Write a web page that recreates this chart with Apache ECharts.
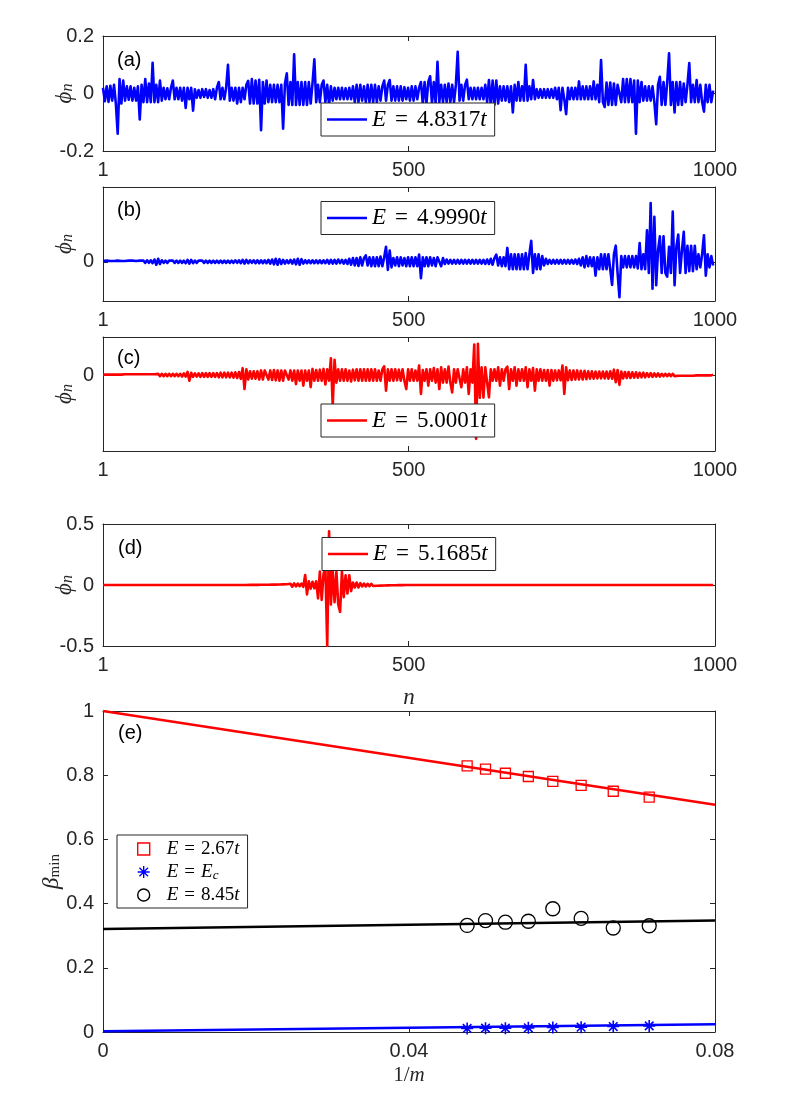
<!DOCTYPE html>
<html>
<head>
<meta charset="utf-8">
<title>phi_n and beta_min</title>
<script src="https://cdn.jsdelivr.net/npm/echarts@6/dist/echarts.min.js"></script>
<style>
html,body{margin:0;padding:0;background:#ffffff;}
#chart{width:789px;height:1100px;}
</style>
</head>
<body>
<div id="chart"></div>
<script>
// ================= DATA =================
// lattice sites are sampled every siteStep sites, starting at siteFirst
const siteFirst = 1;
const siteStep = 3;
const siteTicks = [1, 500, 1000];

const labelA = 'E = 4.8317t';
const phiA = [
 .02,-.027,.025,-.029,.027,-.025,.03,-.035,-.14,.05,
 -.035,.045,-.025,.025,-.022,.025,-.025,.02,-.025,.025,
 -.09,.03,-.03,.05,-.03,.035,-.03,.107,-.03,.03,
 -.03,.045,-.025,.02,-.02,.018,-.02,.02,.045,-.02,
 .02,-.02,.02,-.025,.02,-.05,.02,-.02,.02,-.06,
 .015,-.015,.012,-.015,.015,-.012,.015,-.015,.012,-.015,
 .015,-.02,.02,.04,-.02,.02,-.02,.02,.1,-.025,
 .02,-.025,.02,-.035,.02,-.03,.02,-.02,.03,.044,
 -.035,.05,-.035,.045,-.035,.048,-.128,.04,-.035,.045,
 -.03,.03,-.03,.03,-.03,.03,-.03,.03,-.122,.035,
 .07,-.04,.04,-.04,.136,-.04,.04,-.04,.04,-.04,
 .04,-.04,.04,-.035,.035,.119,-.03,.03,-.03,.03,
 .045,-.03,.03,-.04,.025,-.025,.02,-.02,.02,-.02,
 .02,-.02,.018,-.02,.02,-.02,.025,-.03,.03,-.03,
 .03,-.025,.025,-.03,.03,-.03,.03,-.03,.03,-.03,
 .025,-.025,.025,.045,-.025,.03,.047,-.025,.025,-.025,
 .025,-.025,.025,-.025,.022,-.02,.02,-.025,.025,-.025,
 .025,-.02,.02,.04,-.035,.04,-.035,.04,.06,-.035,
 .04,-.035,.11,-.03,.03,-.03,.03,-.03,.035,-.03,
 .03,-.03,.03,.145,-.025,.03,-.025,.03,.048,-.02,
 .02,-.02,.02,-.02,.02,-.02,.02,-.02,.03,-.03,
 .047,-.043,.045,-.04,.045,-.035,.025,-.025,.025,-.025,
 .025,-.03,.025,-.066,.03,-.025,.04,-.025,.025,-.025,
 .1,-.025,.025,-.02,.047,-.02,.015,-.015,.015,-.015,
 .015,-.015,.015,-.015,.015,-.015,.02,-.02,.02,-.058,
 .02,-.02,-.072,.02,-.02,.02,-.02,.02,-.02,.042,
 -.02,.025,-.02,.025,-.02,.025,-.02,.042,-.02,.03,
 -.03,.116,-.03,-.047,.038,-.04,.038,-.04,.035,-.04,
 .03,.027,-.03,.05,-.03,.05,-.03,.05,-.03,.045,
 -.14,.045,-.03,.04,-.025,.025,-.025,.025,-.025,.025,
 -.03,-.107,.03,.058,-.04,.04,-.04,.04,.14,-.04,
 .04,-.066,.04,-.04,.04,-.04,.035,-.03,.03,.106,
 -.03,.03,-.03,.047,-.03,.03,-.03,-.063,.03,-.03,
 .03,-.03,.01
];

const labelB = 'E = 4.9990t';
const phiB = [
 .002,-.002,.003,-.002,.002,-.003,.002,-.002,.003,-.002,
 .002,-.003,.002,-.002,.003,-.002,.003,-.002,.002,-.003,
 .003,-.002,.003,-.003,.004,-.003,.004,-.004,.006,-.008,
 .008,-.006,.004,-.003,.003,-.003,.003,-.002,.003,-.003,
 .003,-.003,.003,-.003,.003,-.004,.005,-.005,.005,-.004,
 .003,-.003,.003,-.002,.003,-.003,.003,-.003,.003,-.003,
 .003,-.003,.003,-.003,.003,-.003,.003,-.003,.003,-.003,
 .003,-.003,.004,-.003,.004,-.004,.005,-.005,.005,-.004,
 .004,-.003,.004,-.004,.004,-.004,.004,-.004,.004,-.004,
 .005,-.005,.006,-.007,.008,-.008,.007,-.006,.005,-.005,
 .004,-.004,.005,-.005,.006,-.007,.008,-.008,.007,-.005,
 .004,-.004,.004,-.004,.004,-.004,.004,-.004,.004,-.004,
 .004,-.004,.005,-.005,.005,-.005,.005,-.005,.006,-.004,
 .005,-.005,.005,-.006,.008,-.008,.01,-.01,.01,-.011,
 .012,-.01,.01,.017,-.01,.012,-.012,.012,-.012,.012,
 -.012,.014,-.012,.012,.04,-.022,.03,-.015,.01,-.01,
 .012,-.012,.012,-.01,.01,-.012,.012,-.012,.012,-.012,
 .012,-.012,.019,-.044,.012,-.012,.012,-.012,.012,-.01,
 .01,-.012,.012,.009,-.012,.01,-.006,.006,-.005,.005,
 -.005,.005,-.005,.005,-.005,.005,-.005,.005,-.005,.005,
 -.005,.005,-.005,.005,-.005,.005,-.005,.005,-.006,.006,
 -.006,.008,-.008,.01,.019,-.01,.012,-.012,.012,-.012,
 .037,-.02,.02,-.02,.02,-.02,.02,-.02,.02,-.02,
 .023,-.02,.02,.056,-.03,.02,-.02,.02,-.02,.015,
 -.01,.008,-.006,.005,-.005,.005,-.005,.005,-.005,.005,
 -.005,.005,-.005,.005,-.005,.005,-.005,.006,-.006,.008,
 -.01,.012,-.015,.015,-.012,.012,-.012,.012,-.037,.012,
 -.02,.02,-.02,.02,-.02,.02,-.02,-.062,.02,.043,
 -.03,-.095,.015,-.015,.015,-.015,.015,-.015,.015,-.015,
 .015,-.018,.05,-.02,.02,-.02,.084,-.03,.157,-.072,
 .12,-.063,.03,.068,-.03,.068,-.03,-.04,.04,-.03,
 .134,-.063,.04,.073,-.03,.03,.08,-.03,.043,-.025,
 .043,-.025,.043,-.02,.02,-.015,.02,.071,-.037,.02,
 -.015,.015,-.01
];
const phiTicksB = [0];

const labelC = 'E = 5.0001t';
const phiC = [
 .001,-.001,.001,-.001,.001,-.001,.001,-.001,.001,-.001,
 .001,-.001,.002,-.002,.002,-.002,.002,-.002,.002,-.002,
 .002,-.002,.002,-.002,.002,-.002,.002,-.002,.002,-.002,
 .003,-.003,.003,-.003,.003,-.003,.003,-.003,.003,-.003,
 .003,-.003,.003,-.004,.004,-.004,.008,-.015,.006,-.005,
 .004,-.004,.004,-.005,.005,-.005,.005,-.005,.005,-.005,
 .005,-.005,.005,-.006,.006,-.006,.006,-.006,.006,-.006,
 .006,-.007,.007,-.008,.008,-.01,.018,-.037,.015,-.012,
 .01,-.01,.01,-.01,.01,-.012,.012,-.012,.012,.011,
 -.012,.012,-.013,.013,-.014,.012,-.015,.012,-.015,.012,
 .016,-.012,.012,-.015,.012,-.024,.012,-.015,.012,-.028,
 .012,-.015,.012,-.032,.016,-.015,.013,-.015,.014,-.015,
 .016,-.025,.015,-.015,.044,-.08,.04,-.02,.015,-.015,
 .015,-.015,.015,-.015,.012,-.017,.014,-.014,.015,-.015,
 .015,-.015,.015,-.015,.015,-.015,.015,-.015,.015,-.015,
 .012,-.015,.015,.023,-.041,.015,-.015,.015,-.015,.015,
 -.014,.014,-.015,.015,-.015,-.037,.015,-.015,.015,-.015,
 .012,-.015,.025,-.05,.013,-.015,.015,-.028,.015,-.015,
 .018,-.02,.015,-.037,.02,-.02,.015,-.02,.022,-.02,
 -.046,.015,-.02,.015,.017,-.032,.015,-.02,.02,-.05,
 .015,-.02,.08,-.168,.082,-.06,.02,-.059,.02,.025,
 -.059,.015,-.015,.015,-.015,.02,-.028,.015,-.015,.015,
 .022,-.037,.015,-.015,.02,-.028,.015,-.015,.015,-.015,
 .02,-.032,.015,-.015,.018,-.041,.015,-.015,.015,-.015,
 .013,-.015,.013,-.028,.013,-.015,.012,-.014,.012,-.014,
 .025,-.05,.02,-.014,.012,-.013,.012,-.012,.012,-.012,
 .011,-.012,.011,-.011,.01,-.01,.01,-.01,.009,-.009,
 .009,-.009,.009,-.009,.009,-.01,.01,-.01,.014,-.019,
 .013,-.026,.009,-.009,.008,-.008,.008,-.008,.007,-.007,
 .007,-.007,.006,-.006,.006,-.006,.005,-.005,.005,-.005,
 .004,-.004,.004,-.004,.003,-.003,.003,-.003,.003,-.003,
 .003,-.003,.002,-.002,.002,-.002,.002,-.002,.002,-.002,
 .002,-.002,.001,-.001,.001,-.001,.001,-.001,.001,-.001,
 .001,-.001,.001
];
const phiTicksC = [0];

const labelD = 'E = 5.1685t';
const phiD = [
 0,0,0,0,0,0,0,0,0,0,
 0,0,0,0,0,0,0,0,0,0,
 0,0,0,0,0,0,0,0,0,0,
 0,0,0,0,0,0,0,0,0,0,
 0,0,0,0,0,0,0,0,0,0,
 0,0,0,0,0,0,0,0,0,0,
 0,0,0,0,0,0,0,0,0,0,
 0,0,0,0,0,0,0,0,0,0,
 .001,-.001,.001,-.001,.001,-.001,.002,-.002,.002,-.002,
 .002,-.002,.003,-.003,.003,-.003,.004,-.004,.005,-.005,
 .006,-.008,.01,-.014,.014,-.012,.012,-.01,.012,-.015,
 .082,-.077,.03,-.03,.027,-.027,.03,-.11,.11,-.123,
 .09,.15,-.5,.44,-.16,.12,-.14,.11,-.16,-.22,
 .11,-.1,.08,-.07,.08,-.05,.02,-.02,.02,-.02,
 .015,-.012,.012,-.012,.01,-.01,.01,-.008,.008,-.006,
 .005,-.005,.004,-.004,.003,-.003,.002,-.002,.002,-.002,
 .001,-.001,.001,-.001,0,0,0,0,0,0,
 0,0,0,0,0,0,0,0,0,0,
 0,0,0,0,0,0,0,0,0,0,
 0,0,0,0,0,0,0,0,0,0,
 0,0,0,0,0,0,0,0,0,0,
 0,0,0,0,0,0,0,0,0,0,
 0,0,0,0,0,0,0,0,0,0,
 0,0,0,0,0,0,0,0,0,0,
 0,0,0,0,0,0,0,0,0,0,
 0,0,0,0,0,0,0,0,0,0,
 0,0,0,0,0,0,0,0,0,0,
 0,0,0,0,0,0,0,0,0,0,
 0,0,0,0,0,0,0,0,0,0,
 0,0,0,0,0,0,0,0,0,0,
 0,0,0,0,0,0,0,0,0,0,
 0,0,0,0,0,0,0,0,0,0,
 0,0,0,0,0,0,0,0,0,0,
 0,0,0
];

// panel (e)
const invM = [0.0476, 0.05, 0.0526, 0.0556, 0.0588, 0.0625, 0.0667, 0.0714];
const labelE1 = 'E = 2.67t';
const betaE1 = [0.829, 0.819, 0.806, 0.796, 0.781, 0.768, 0.750, 0.732];
const labelE2 = 'E = E_c';
const betaE2 = [0.011, 0.012, 0.012, 0.013, 0.014, 0.015, 0.017, 0.019];
const labelE3 = 'E = 8.45t';
const betaE3 = [0.332, 0.347, 0.342, 0.345, 0.384, 0.354, 0.324, 0.331];
const fitX = [0, 0.08];
const fitE1 = [1.0, 0.708];
const fitE2 = [0.002, 0.024];
const fitE3 = [0.321, 0.347];

const panelTags = ['(a)', '(b)', '(c)', '(d)', '(e)'];

// ================= STYLE / LAYOUT =================
const AX = '#262626';
const SANS = "'Liberation Sans', Arial, sans-serif";
const SERIF = "'Liberation Serif', 'DejaVu Serif', serif";
const BLUE = '#0000ff', RED = '#ff0000', BLACK = '#000000';

const gridBoxes = [
  {left:103, top:36,  width:612, height:115},
  {left:103, top:187, width:612, height:114},
  {left:103, top:337, width:612, height:114},
  {left:103, top:524, width:612, height:122},
  {left:103, top:711, width:612, height:321}
];
const tagPos = [[117,60],[117,210],[117,358],[118,548],[118,733]];

function axLine(){ return {show:true, onZero:false, lineStyle:{color:AX, width:1}}; }
function axTick(vals){ const t = {show:true, inside:true, length:5, lineStyle:{color:AX, width:1}}; if (vals) t.customValues = vals; return t; }
function axLabel(vals){
  const l = {show:true, color:AX, fontSize:20, fontFamily:SANS, margin:9, formatter: v => String(+v.toFixed(6))};
  if (vals) l.customValues = vals;
  return l;
}

const xAxes = [], yAxes = [];
function addX(k, range, vals, nameOpt){
  const common = {type:'value', gridIndex:k, min:range.min, max:range.max, splitLine:{show:false}, nameMoveOverlap:false};
  if (range.interval) common.interval = range.interval;
  xAxes.push(Object.assign({}, common, {position:'bottom', axisLine:axLine(), axisTick:axTick(vals), axisLabel:axLabel(vals)}, nameOpt || {}));
  xAxes.push(Object.assign({}, common, {position:'top', axisLine:axLine(), axisTick:axTick(vals), axisLabel:{show:false}}));
}
function addY(k, range, vals, nameOpt){
  const common = {type:'value', gridIndex:k, min:range.min, max:range.max, splitLine:{show:false}, nameMoveOverlap:false};
  if (range.interval) common.interval = range.interval;
  yAxes.push(Object.assign({}, common, {position:'left', axisLine:axLine(), axisTick:axTick(vals), axisLabel:axLabel(vals)}, nameOpt || {}));
  yAxes.push(Object.assign({}, common, {position:'right', axisLine:axLine(), axisTick:axTick(vals), axisLabel:{show:false}}));
}

const phiName = {
  name:'{i|\u03d5}{s|n}', nameLocation:'middle', nameGap:27, nameRotate:90,
  nameTextStyle:{rich:{
    i:{fontFamily:SERIF, fontStyle:'italic', fontSize:23, color:AX, lineHeight:23},
    s:{fontFamily:SERIF, fontStyle:'italic', fontSize:16, color:AX, verticalAlign:'bottom', lineHeight:15}
  }}
};

// panels a-d
const siteRange = {min:1, max:1000};
addX(0, siteRange, siteTicks); addY(0, {min:-0.2, max:0.2, interval:0.2}, null, phiName);
addX(1, siteRange, siteTicks); addY(1, {min:-0.105, max:0.2}, phiTicksB, phiName);
addX(2, siteRange, siteTicks); addY(2, {min:-0.2, max:0.1}, phiTicksC, phiName);
addX(3, siteRange, siteTicks, {
  name:'{i|n}', nameLocation:'middle', nameGap:40,
  nameTextStyle:{rich:{i:{fontFamily:SERIF, fontStyle:'italic', fontSize:23, color:AX}}}
});
addY(3, {min:-0.5, max:0.5, interval:0.5}, null, phiName);
// panel e
addX(4, {min:0, max:0.08, interval:0.04}, null, {
  name:'{n|1/}{i|m}', nameLocation:'middle', nameGap:33,
  nameTextStyle:{rich:{
    n:{fontFamily:SERIF, fontSize:21, color:AX},
    i:{fontFamily:SERIF, fontStyle:'italic', fontSize:21, color:AX}
  }}
});
addY(4, {min:0, max:1, interval:0.2}, null, {
  name:'{i|\u03b2}{s|min}', nameLocation:'middle', nameGap:40, nameRotate:90,
  nameTextStyle:{rich:{
    i:{fontFamily:SERIF, fontStyle:'italic', fontSize:23, color:AX, lineHeight:23},
    s:{fontFamily:SERIF, fontSize:15, color:AX, verticalAlign:'bottom', lineHeight:15}
  }}
});

function siteSeries(k, name, vals, color){
  return {
    type:'line', name:name, xAxisIndex:2*k, yAxisIndex:2*k,
    data: vals.map((v, i) => [siteFirst + siteStep * i, v]),
    symbol:'none', showSymbol:false, smooth:false,
    lineStyle:{color:color, width:2.6, join:'round'},
    itemStyle:{color:color}, z:2
  };
}

function fmtE(name){
  const rhs = name.split(' = ')[1];
  let r;
  if (rhs === 'E_c') r = '{i|E}{s|c}';
  else r = '{n|' + rhs.slice(0, -1) + '}{i|t}';
  return '{i|E}{sp| }{n|=}{sp| }' + r;
}
function fmtE2(name){ return '{gap| }' + fmtE(name); }

function richFor(size, lh, sp){
  return {
    i:{fontFamily:SERIF, fontStyle:'italic', fontSize:size, color:'#000', lineHeight:lh},
    n:{fontFamily:SERIF, fontSize:size, color:'#000', lineHeight:lh},
    s:{fontFamily:SERIF, fontStyle:'italic', fontSize:Math.round(size*0.7), color:'#000', lineHeight:lh, verticalAlign:'bottom'},
    sp:{fontSize:size, width:sp, lineHeight:lh},
    gap:{fontSize:size, width:12, lineHeight:lh}
  };
}

function phiLegend(name, left, top){
  return {
    data:[name], left:left, top:top, orient:'horizontal', icon:'rect',
    itemWidth:40, itemHeight:2.6, itemGap:0,
    backgroundColor:'#ffffff', borderColor:AX, borderWidth:1, borderRadius:0,
    padding:[4, 8, 4, 6], selectedMode:false, z:10,
    formatter: fmtE,
    textStyle:{fontFamily:SERIF, fontSize:23, color:'#000', lineHeight:25, rich:richFor(23, 25, 9)}
  };
}

const series = [
  siteSeries(0, labelA, phiA, BLUE),
  siteSeries(1, labelB, phiB, BLUE),
  siteSeries(2, labelC, phiC, RED),
  siteSeries(3, labelD, phiD, RED)
];

function fitSeries(name, ys, color){
  return {
    type:'line', name:name, xAxisIndex:8, yAxisIndex:8,
    data: fitX.map((x, i) => [x, ys[i]]),
    symbol:'none', showSymbol:false, lineStyle:{color:color, width:2.5}, itemStyle:{color:color}, z:2
  };
}
series.push(fitSeries('fit1', fitE1, RED), fitSeries('fit2', fitE2, BLUE), fitSeries('fit3', fitE3, BLACK));

const STAR = 'path://M7,0L7,14M0,7L14,7M2,2L12,12M2,12L12,2';
function pointSeries(name, ys, symbol, size, color, bw){
  return {
    type:'scatter', name:name, xAxisIndex:8, yAxisIndex:8,
    data: invM.map((x, i) => [x, ys[i]]),
    symbol:symbol, symbolSize:size,
    itemStyle:{color:'rgba(0,0,0,0)', borderColor:color, borderWidth:bw, opacity:1},
    z:5
  };
}
series.push(
  pointSeries(labelE1, betaE1, 'rect', 10, RED, 1.3),
  pointSeries(labelE2, betaE2, STAR, 12, BLUE, 1.6),
  pointSeries(labelE3, betaE3, 'circle', 14, BLACK, 1.3)
);

const legends = [
  phiLegend(labelA, 321, 103),
  phiLegend(labelB, 321, 201.5),
  phiLegend(labelC, 321, 404),
  phiLegend(labelD, 322, 537.5),
  {
    data:[labelE1, labelE2, labelE3], left:117, top:835, orient:'vertical',
    itemWidth:12, itemHeight:12, itemGap:3,
    itemStyle:{borderWidth:1.4},
    backgroundColor:'#ffffff', borderColor:AX, borderWidth:1, borderRadius:0,
    padding:[4, 8, 3, 20], selectedMode:false, z:10,
    formatter: fmtE2,
    textStyle:{fontFamily:SERIF, fontSize:19, color:'#000', lineHeight:20, rich:richFor(19, 20, 6)}
  }
];

const graphics = panelTags.map((t, k) => ({
  type:'text', x:tagPos[k][0], y:tagPos[k][1], z:20,
  style:{text:t, fontSize:20, fontFamily:SANS, fill:'#000', verticalAlign:'middle', align:'left'}
}));

const chart = echarts.init(document.getElementById('chart'), null, {renderer:'canvas'});
chart.setOption({
  backgroundColor:'#ffffff',
  animation:false,
  grid: gridBoxes.map(g => Object.assign({show:false, containLabel:false, outerBoundsMode:'none'}, g)),
  xAxis: xAxes,
  yAxis: yAxes,
  legend: legends,
  graphic: graphics,
  series: series
});
</script>
</body>
</html>
